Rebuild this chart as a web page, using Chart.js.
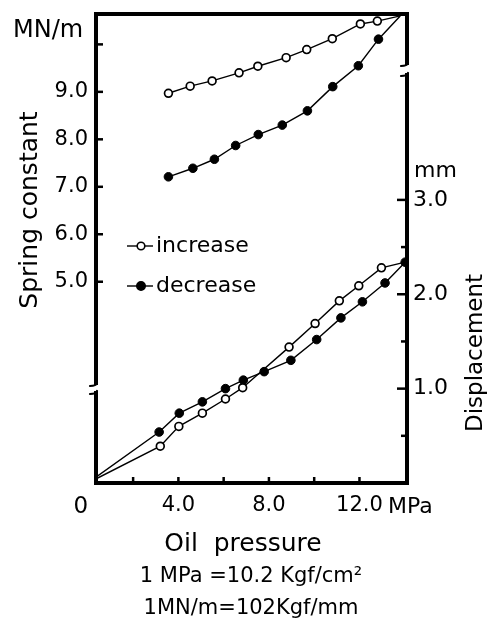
<!DOCTYPE html>
<html>
<head>
<meta charset="utf-8">
<script src="https://cdn.jsdelivr.net/npm/chart.js@4/dist/chart.umd.min.js"></script>
<style>
html,body{margin:0;padding:0;background:#fff;}
#wrap{width:489px;height:623px;}
</style>
</head>
<body>
<div id="wrap"><canvas id="c" width="489" height="623"></canvas></div>
<script>
// ---- data ----
// Spring constant (MN/m) vs oil pressure (MPa)
const springIncPressure = [3.56, 4.52, 5.49, 6.68, 7.51, 8.76, 9.67, 10.80, 12.04, 12.79, 13.8];
const springIncValue    = [8.97, 9.12, 9.23, 9.40, 9.54, 9.72, 9.89, 10.12, 10.43, 10.49, 10.60];
const springDecPressure = [3.56, 4.64, 5.59, 6.53, 7.53, 8.59, 9.70, 10.82, 11.95, 12.84, 13.8];
const springDecValue    = [7.21, 7.39, 7.58, 7.87, 8.10, 8.30, 8.60, 9.11, 9.55, 10.11, 10.60];
// Displacement (mm) vs oil pressure (MPa)
const dispIncPressure = [0, 3.20, 4.02, 5.06, 6.08, 6.84, 8.89, 10.04, 11.11, 11.97, 12.97, 14.02];
const dispIncValue    = [0, 0.39, 0.60, 0.74, 0.89, 1.01, 1.44, 1.69, 1.93, 2.09, 2.28, 2.34];
const dispDecPressure = [0, 3.15, 4.04, 5.06, 6.08, 6.87, 7.79, 8.97, 10.11, 11.18, 12.13, 13.13, 14.02];
const dispDecValue    = [0, 0.54, 0.74, 0.86, 1.00, 1.09, 1.18, 1.30, 1.52, 1.75, 1.92, 2.12, 2.34];

// ---- axes ----
const xTickValues = [2, 4, 6, 8, 10, 12];
const xTickLabels = ['', '4.0', '', '8.0', '', '12.0'];
const leftTickValues = [5, 6, 7, 8, 9, 10];
const leftTickLabels = ['5.0', '6.0', '7.0', '8.0', '9.0', ''];
const rightTickValues = [0.5, 1, 1.5, 2, 2.5, 3];
const rightTickLabels = ['', '1.0', '', '2.0', '', '3.0'];
const xMin = 0.36, xMax = 14.1;
const leftMin = 0.76, leftMax = 10.64;
const rightMin = 0, rightMax = 4.97;

const FONT = "'DejaVu Sans', sans-serif";
const pts = (xs, ys) => xs.map((x, i) => ({x: x, y: ys[i]}));
const lastHidden = (arr, r) => arr.map((v, i) => i === arr.length - 1 ? 0 : r);
const firstHidden = (arr, r) => arr.map((v, i) => i === 0 ? 0 : r);
const firstLastHidden = (arr, r) => arr.map((v, i) => (i === 0 || i === arr.length - 1) ? 0 : r);
const noPad = sc => { sc.paddingTop = 0; sc.paddingBottom = 0; sc.paddingLeft = 0; sc.paddingRight = 0; };

const framePlugin = {
  id: 'frame',
  afterDraw(chart) {
    const ctx = chart.ctx, a = chart.chartArea, s = chart.scales;
    ctx.save();
    ctx.strokeStyle = '#000';
    ctx.fillStyle = '#000';
    const line = (x1, y1, x2, y2) => { ctx.beginPath(); ctx.moveTo(x1, y1); ctx.lineTo(x2, y2); ctx.stroke(); };
    // frame
    ctx.lineWidth = 4;
    ctx.lineCap = 'square';
    line(a.left, a.top, a.right, a.top);
    line(a.left, a.bottom, a.right, a.bottom);
    const lb1 = a.top + 369, lb2 = a.top + 379;
    line(a.left, a.top, a.left, lb1);
    line(a.left, lb2, a.left, a.bottom);
    const rb1 = a.top + 49, rb2 = a.top + 61;
    line(a.right, a.top, a.right, rb1);
    line(a.right, rb2, a.right, a.bottom);
    // break hooks
    ctx.lineWidth = 2.2;
    ctx.lineCap = 'round';
    const hook = (x, y) => { ctx.beginPath(); ctx.moveTo(x, y); ctx.quadraticCurveTo(x - 1, y + 3, x - 7, y + 3); ctx.stroke(); };
    hook(a.left + 1, lb1);
    hook(a.left + 1, lb2 - 2);
    hook(a.right + 1, rb1);
    hook(a.right + 1, rb2 - 2);
    // tick marks
    ctx.lineWidth = 2.5;
    ctx.lineCap = 'butt';
    leftTickValues.forEach(v => { const y = s.y.getPixelForValue(v); line(a.left - 2, y, a.left + 7, y); });
    rightTickValues.forEach(v => { const y = s.y2.getPixelForValue(v); const L = Number.isInteger(v) ? 10 : 6; line(a.right + 1, y, a.right - L, y); });
    xTickValues.forEach(v => { const x = s.x.getPixelForValue(v); line(x, a.bottom + 1, x, a.bottom - 6); });

    // texts
    ctx.textAlign = 'left';
    ctx.textBaseline = 'alphabetic';
    ctx.font = '24px ' + FONT;
    ctx.fillText('MN/m', 13, 37);
    ctx.font = '22px ' + FONT;
    ctx.fillText('mm', 414, 177);
    ctx.font = '23px ' + FONT;
    ctx.textAlign = 'center';
    ctx.fillText('0', s.x.getPixelForValue(0) - 7, 513);
    ctx.textAlign = 'left';
    ctx.font = '22px ' + FONT;
    ctx.fillText('MPa', 388, 513);
    // axis titles
    ctx.save();
    ctx.translate(37, 210);
    ctx.rotate(-Math.PI / 2);
    ctx.textAlign = 'center';
    ctx.font = '25px ' + FONT;
    ctx.fillText('Spring constant', 0, 0);
    ctx.restore();
    ctx.save();
    ctx.translate(482, 353);
    ctx.rotate(-Math.PI / 2);
    ctx.textAlign = 'center';
    ctx.font = '23px ' + FONT;
    ctx.fillText('Displacement', 0, 0);
    ctx.restore();
    ctx.textAlign = 'center';
    ctx.font = '25px ' + FONT;
    ctx.fillText('Oil  pressure', 243, 551);
    ctx.font = '21px ' + FONT;
    ctx.fillText('1 MPa =10.2 Kgf/cm\u00B2', 251, 582);
    ctx.fillText('1MN/m=102Kgf/mm', 251, 614);

    // legend
    const rows = [
      {y: 246, text: 'increase', fill: '#fff', r: 3.8},
      {y: 286, text: 'decrease', fill: '#000', r: 4.2}
    ];
    rows.forEach(rw => {
      ctx.lineWidth = 1.4;
      line(127, rw.y, 153, rw.y);
      ctx.beginPath();
      ctx.arc(141, rw.y, rw.r, 0, Math.PI * 2);
      ctx.fillStyle = rw.fill;
      ctx.fill();
      ctx.lineWidth = 1.6;
      ctx.stroke();
      ctx.fillStyle = '#000';
      ctx.textAlign = 'left';
      ctx.textBaseline = 'middle';
      ctx.font = '22px ' + FONT;
      ctx.fillText(rw.text, 156, rw.y);
    });
    ctx.restore();
  }
};

const openStyle = {borderColor: '#000', borderWidth: 1.4, pointBackgroundColor: '#fff', pointBorderColor: '#000', pointBorderWidth: 1.7, tension: 0, fill: false};
const fillStyle = {borderColor: '#000', borderWidth: 1.4, pointBackgroundColor: '#000', pointBorderColor: '#000', pointBorderWidth: 1, tension: 0, fill: false};

new Chart(document.getElementById('c'), {
  type: 'line',
  data: {
    datasets: [
      Object.assign({label: 'increase', yAxisID: 'y', data: pts(springIncPressure, springIncValue), pointRadius: lastHidden(springIncValue, 3.9)}, openStyle),
      Object.assign({label: 'decrease', yAxisID: 'y', data: pts(springDecPressure, springDecValue), pointRadius: lastHidden(springDecValue, 4.3)}, fillStyle),
      Object.assign({label: 'increase (displacement)', yAxisID: 'y2', data: pts(dispIncPressure, dispIncValue), pointRadius: firstLastHidden(dispIncValue, 3.9)}, openStyle),
      Object.assign({label: 'decrease (displacement)', yAxisID: 'y2', data: pts(dispDecPressure, dispDecValue), pointRadius: firstHidden(dispDecValue, 4.3)}, fillStyle)
    ]
  },
  options: {
    responsive: false,
    animation: false,
    devicePixelRatio: 1,
    layout: {padding: {top: 14, left: 0, right: 0, bottom: 0}},
    plugins: {legend: {display: false}, tooltip: {enabled: false}},
    scales: {
      x: {
        type: 'linear', position: 'bottom', min: xMin, max: xMax,
        grid: {display: false, drawTicks: false}, border: {display: false},
        afterBuildTicks: sc => { sc.ticks = xTickValues.map(v => ({value: v})); },
        afterFit: sc => { sc.height = 140; noPad(sc); },
        ticks: {callback: (v, i) => xTickLabels[i], font: {family: FONT, size: 21}, color: '#000', padding: 10, maxRotation: 0, autoSkip: false}
      },
      y: {
        type: 'linear', position: 'left', min: leftMin, max: leftMax,
        grid: {display: false, drawTicks: false}, border: {display: false},
        afterBuildTicks: sc => { sc.ticks = leftTickValues.map(v => ({value: v})); },
        afterFit: sc => { sc.width = 96; noPad(sc); },
        ticks: {callback: (v, i) => leftTickLabels[i], font: {family: FONT, size: 21}, color: '#000', padding: 8, autoSkip: false}
      },
      y2: {
        type: 'linear', position: 'right', min: rightMin, max: rightMax,
        grid: {display: false, drawTicks: false}, border: {display: false},
        afterBuildTicks: sc => { sc.ticks = rightTickValues.map(v => ({value: v})); },
        afterFit: sc => { sc.width = 82; noPad(sc); },
        ticks: {callback: (v, i) => rightTickLabels[i], font: {family: FONT, size: 22}, color: '#000', padding: 6, autoSkip: false}
      }
    }
  },
  plugins: [framePlugin]
});
</script>
</body>
</html>
